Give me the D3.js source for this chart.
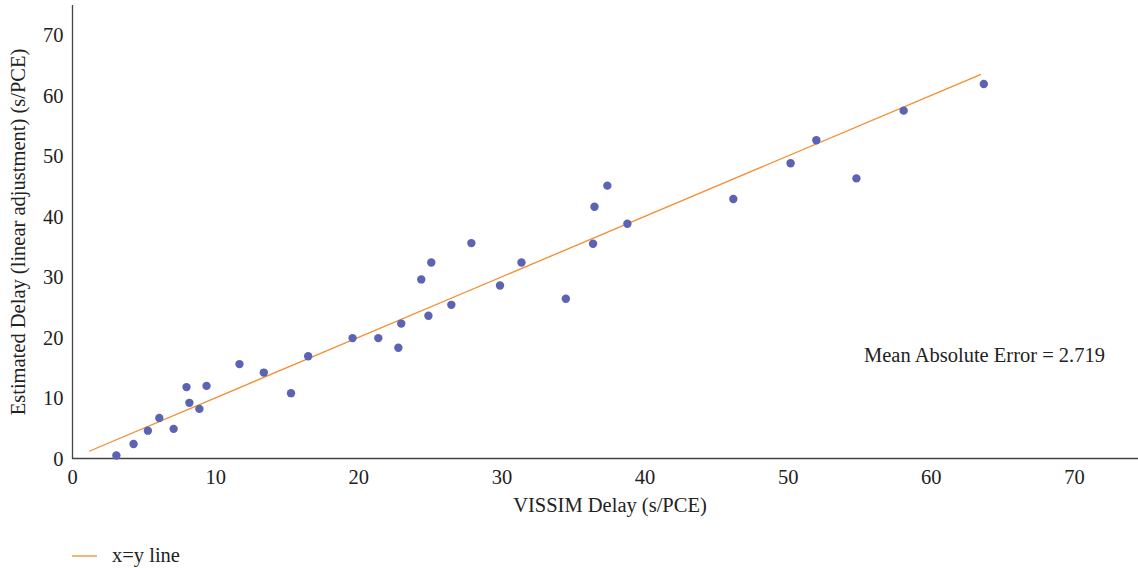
<!DOCTYPE html>
<html><head><meta charset="utf-8">
<script src="https://cdn.jsdelivr.net/npm/d3@7"></script>
<style>
body{margin:0;background:#fff;}
svg{display:block;font-family:"Liberation Serif","DejaVu Serif",serif;}
</style></head>
<body><svg id="c" width="1138" height="568"></svg>
<script>
const vissimDelay = [3.1,4.3,5.3,6.1,7.1,8.0,8.2,8.9,9.4,11.7,13.4,15.3,16.5,19.6,21.4,22.8,23.0,24.4,24.9,25.1,26.5,27.9,29.9,31.4,34.5,36.4,36.5,37.4,38.8,46.2,50.2,52.0,54.8,58.1,63.7];
const estimatedDelay = [0.5,2.4,4.6,6.7,4.9,11.8,9.2,8.2,12.0,15.6,14.2,10.8,16.9,19.9,19.9,18.3,22.3,29.6,23.6,32.4,25.4,35.6,28.6,32.4,26.4,35.5,41.6,45.1,38.8,42.9,48.8,52.6,46.3,57.5,61.9];
const xTicks = [0,10,20,30,40,50,60,70];
const yTicks = [0,10,20,30,40,50,60,70];
const identityLine = [1.2, 63.5];
const xLabel = "VISSIM Delay (s/PCE)";
const yLabel = "Estimated Delay (linear adjustment) (s/PCE)";
const annotation = "Mean Absolute Error = 2.719";
const legendLabel = "x=y line";

const svg = d3.select("#c");
const x = d3.scaleLinear().domain([0,70]).range([72,1074]);
const y = d3.scaleLinear().domain([0,70]).range([458.5,35]);
const axisColor = "#444";
const tickColor = "#222";
const fs = 20.5;

// axes
const xa = svg.append("g").attr("transform","translate(0,458.5)")
  .call(d3.axisBottom(x).tickValues(xTicks).tickSize(0).tickPadding(11));
xa.select(".domain").remove();
svg.append("line").attr("x1",x(0)).attr("x2",1138).attr("y1",458.5).attr("y2",458.5)
  .attr("stroke",axisColor).attr("stroke-width",1.3);
const ya = svg.append("g").attr("transform","translate(72.5,0)")
  .call(d3.axisLeft(y).tickValues(yTicks).tickSize(0).tickPadding(9));
ya.select(".domain").remove();
svg.append("line").attr("x1",72.5).attr("x2",72.5).attr("y1",5).attr("y2",459)
  .attr("stroke",axisColor).attr("stroke-width",1.3);
svg.selectAll(".tick text").attr("font-family","Liberation Serif, serif").attr("font-size",fs).attr("fill",tickColor);

// identity line
svg.append("line")
  .attr("x1",x(identityLine[0])).attr("y1",y(identityLine[0]))
  .attr("x2",x(identityLine[1])).attr("y2",y(identityLine[1]))
  .attr("stroke","#f58c2f").attr("stroke-width",1.3);

// points
svg.append("g").selectAll("circle").data(vissimDelay).join("circle")
  .attr("cx",(d)=>x(d)).attr("cy",(d,i)=>y(estimatedDelay[i])).attr("r",4.2)
  .attr("fill","#5a64b2");

// labels
svg.append("text").attr("x",610).attr("y",512).attr("text-anchor","middle")
  .attr("font-size",fs).attr("fill",tickColor).text(xLabel);
svg.append("text").attr("transform","translate(25,232) rotate(-90)").attr("text-anchor","middle")
  .attr("font-size",fs).attr("fill",tickColor).text(yLabel);
svg.append("text").attr("x",1105).attr("y",362).attr("text-anchor","end")
  .attr("font-size",fs).attr("fill",tickColor).text(annotation);

// legend
svg.append("line").attr("x1",72).attr("x2",97).attr("y1",556).attr("y2",556)
  .attr("stroke","#f58c2f").attr("stroke-width",1.3);
svg.append("text").attr("x",112).attr("y",562).attr("font-size",fs).attr("fill",tickColor).text(legendLabel);
</script></body></html>
